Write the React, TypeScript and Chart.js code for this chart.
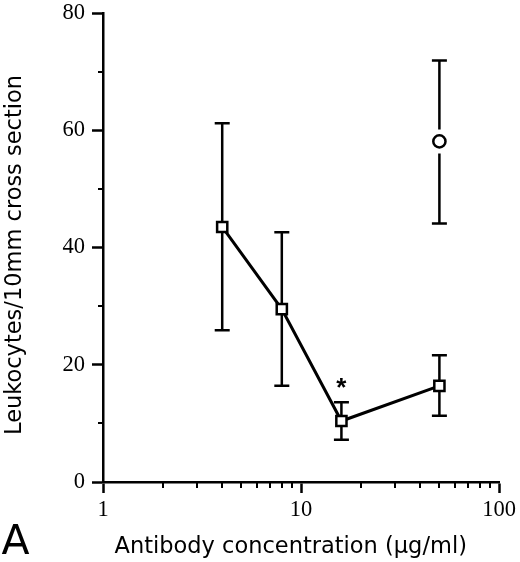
import { useEffect, useRef } from "react";
import { Chart, registerables } from "chart.js";

Chart.register(...registerables);

// ---- data ----
const concentrations = [4, 8, 16, 50];
const leukocyteMeans = [43.5, 29.5, 10.4, 16.4];
const errorHigh = [61.2, 42.6, 13.6, 21.6];
const errorLow = [25.9, 16.4, 7.2, 11.3];

const controlConcentrations = [50];
const controlMeans = [58.1];
const controlHigh = [71.9];
const controlLow = [44.1];

const significantConcentrations = [16];
const significanceMarkerLevels = [17.2];
const significanceLabels = ["*"];

const xTickLabels = [1, 10, 100];
const xMinorTicks = [2, 3, 4, 5, 6, 7, 8, 9, 20, 30, 40, 50, 60, 70, 80, 90];
const yTickLabels = [0, 20, 40, 60, 80];
const yMinorTicks = [10, 30, 50, 70];

const xTitle = "Antibody concentration (µg/ml)";
const yTitle = "Leukocytes/10mm cross section";
const panelLabel = "A";

const errorBarPlugin = {
  id: "errorBars",
  beforeDatasetsDraw(chart: any) {
    const { ctx } = chart;
    const xs = chart.scales.x;
    const ys = chart.scales.y;
    chart.data.datasets.forEach((ds: any) => {
      const gap = ds.errorGap || 0;
      ds.data.forEach((p: any, i: number) => {
        const px = xs.getPixelForValue(p.x);
        const cy = ys.getPixelForValue(p.y);
        const top = ys.getPixelForValue(ds.errorHigh[i]);
        const bot = ys.getPixelForValue(ds.errorLow[i]);
        ctx.save();
        ctx.strokeStyle = "#000";
        ctx.lineWidth = 2.5;
        ctx.beginPath();
        if (gap > 0) {
          ctx.moveTo(px, top);
          ctx.lineTo(px, cy - gap);
          ctx.moveTo(px, cy + gap);
          ctx.lineTo(px, bot);
        } else {
          ctx.moveTo(px, top);
          ctx.lineTo(px, bot);
        }
        ctx.moveTo(px - 7.5, top);
        ctx.lineTo(px + 7.5, top);
        ctx.moveTo(px - 7.5, bot);
        ctx.lineTo(px + 7.5, bot);
        ctx.stroke();
        ctx.restore();
      });
    });
  },
};

const decorPlugin = {
  id: "decor",
  afterDraw(chart: any) {
    const { ctx, chartArea } = chart;
    const xs = chart.scales.x;
    const ys = chart.scales.y;
    ctx.save();
    ctx.strokeStyle = "#000";
    ctx.lineWidth = 2;
    ctx.beginPath();
    yMinorTicks.forEach((v) => {
      const py = Math.round(ys.getPixelForValue(v));
      ctx.moveTo(chartArea.left - 5, py);
      ctx.lineTo(chartArea.left, py);
    });
    xMinorTicks.forEach((v) => {
      const px = Math.round(xs.getPixelForValue(v));
      ctx.moveTo(px, chartArea.bottom);
      ctx.lineTo(px, chartArea.bottom + 6);
    });
    ctx.stroke();

    // significance markers
    ctx.fillStyle = "#000";
    ctx.font = "bold 26px 'Liberation Sans'";
    ctx.textAlign = "center";
    ctx.textBaseline = "alphabetic";
    significantConcentrations.forEach((c, i) => {
      const px = xs.getPixelForValue(c);
      const py = ys.getPixelForValue(significanceMarkerLevels[i]);
      ctx.fillText(significanceLabels[i], px, py + 0.57 * 26);
    });

    // axis titles
    ctx.font = "22.5px 'DejaVu Sans'";
    ctx.textAlign = "left";
    ctx.fillText(xTitle, 114.5, 552.5);

    ctx.save();
    ctx.translate(21, 435);
    ctx.rotate(-Math.PI / 2);
    ctx.fillText(yTitle, 0, 0);
    ctx.restore();

    // panel label
    ctx.font = "41px 'DejaVu Sans'";
    ctx.fillText(panelLabel, 1.5, 554);
    ctx.restore();
  },
};

export default function App() {
  const canvasRef = useRef<HTMLCanvasElement | null>(null);

  useEffect(() => {
    if (!canvasRef.current) return;
    const tickFont = { family: "'Liberation Serif'", size: 22.5, lineHeight: 1 };
    const chart = new Chart(canvasRef.current, {
      type: "scatter",
      data: {
        datasets: [
          {
            data: concentrations.map((c, i) => ({ x: c, y: leukocyteMeans[i] })),
            errorHigh,
            errorLow,
            errorGap: 0,
            showLine: true,
            borderColor: "#000",
            borderWidth: 3,
            pointStyle: "rect",
            pointRadius: 7.2,
            pointHoverRadius: 7.2,
            pointBackgroundColor: "#fff",
            pointBorderColor: "#000",
            pointBorderWidth: 2.5,
            pointHoverBorderWidth: 2.5,
            clip: false,
          } as any,
          {
            data: controlConcentrations.map((c, i) => ({ x: c, y: controlMeans[i] })),
            errorHigh: controlHigh,
            errorLow: controlLow,
            errorGap: 12,
            showLine: false,
            pointStyle: "circle",
            pointRadius: 6.1,
            pointHoverRadius: 6.1,
            pointBackgroundColor: "#fff",
            pointBorderColor: "#000",
            pointBorderWidth: 2.5,
            pointHoverBorderWidth: 2.5,
            clip: false,
          } as any,
        ],
      },
      options: {
        animation: false,
        responsive: true,
        maintainAspectRatio: false,
        events: [],
        layout: { padding: { top: 13, right: 21, left: 0, bottom: 0 } },
        plugins: { legend: { display: false }, tooltip: { enabled: false } },
        scales: {
          x: {
            type: "logarithmic",
            position: "bottom",
            min: 1,
            max: 100,
            afterBuildTicks: (s: any) => {
              s.ticks = xTickLabels.map((v) => ({ value: v }));
            },
            afterFit: (s: any) => {
              s.height = 80;
              s.paddingLeft = 0;
              s.paddingRight = 0;
              s.paddingTop = 0;
              s.paddingBottom = 0;
            },
            ticks: {
              callback: (v: any) => String(v),
              font: tickFont,
              color: "#000",
              padding: 6,
              maxRotation: 0,
              autoSkip: false,
            },
            grid: {
              display: true,
              drawOnChartArea: false,
              drawTicks: true,
              tickLength: 11,
              tickColor: "#000",
              tickWidth: 2.5,
            },
            border: { display: true, color: "#000", width: 2.5 },
          },
          y: {
            type: "linear",
            min: 0,
            max: 80,
            afterBuildTicks: (s: any) => {
              s.ticks = yTickLabels.map((v) => ({ value: v }));
            },
            afterFit: (s: any) => {
              s.width = 103;
              s.paddingLeft = 0;
              s.paddingRight = 0;
              s.paddingTop = 0;
              s.paddingBottom = 0;
            },
            ticks: {
              callback: (v: any) => String(v),
              font: tickFont,
              color: "#000",
              padding: 7,
            },
            grid: {
              display: true,
              drawOnChartArea: false,
              drawTicks: true,
              tickLength: 11,
              tickColor: "#000",
              tickWidth: 2.5,
            },
            border: { display: true, color: "#000", width: 2.5 },
          },
        },
      } as any,
      plugins: [errorBarPlugin, decorPlugin],
    });
    return () => chart.destroy();
  }, []);

  return (
    <div
      style={{
        position: "fixed",
        left: 0,
        top: 0,
        width: 520,
        height: 562,
        background: "#fff",
      }}
    >
      <canvas ref={canvasRef} />
    </div>
  );
}
